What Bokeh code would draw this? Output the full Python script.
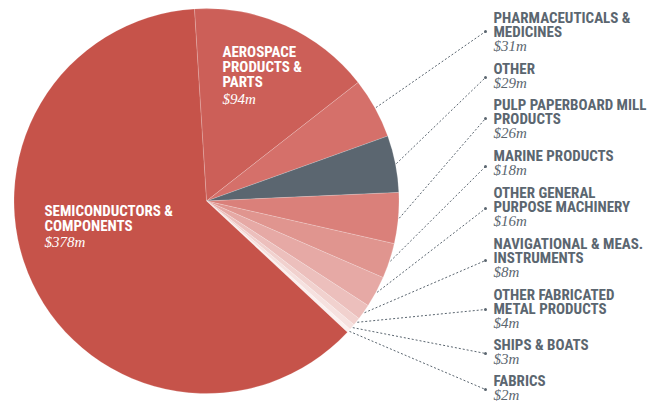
import numpy as np
from bokeh.plotting import figure
from bokeh.models import Range1d, ColumnDataSource
from bokeh.core.properties import value
from bokeh.embed import file_html
from bokeh.resources import INLINE

# ---- data (clockwise order starting at the top) ----
categories = ["AEROSPACE PRODUCTS & PARTS", "PHARMACEUTICALS & MEDICINES", "OTHER",
              "PULP PAPERBOARD MILL PRODUCTS", "MARINE PRODUCTS",
              "OTHER GENERAL PURPOSE MACHINERY", "NAVIGATIONAL & MEAS. INSTRUMENTS",
              "OTHER FABRICATED METAL PRODUCTS", "SHIPS & BOATS", "FABRICS",
              "SEMICONDUCTORS & COMPONENTS"]
values = [94, 31, 29, 26, 18, 16, 8, 4, 3, 2, 378]
value_labels = ["$94m", "$31m", "$29m", "$26m", "$18m", "$16m", "$8m", "$4m", "$3m", "$2m", "$378m"]
label_lines = [["AEROSPACE", "PRODUCTS &", "PARTS"],
               ["PHARMACEUTICALS &", "MEDICINES"],
               ["OTHER"],
               ["PULP PAPERBOARD MILL", "PRODUCTS"],
               ["MARINE PRODUCTS"],
               ["OTHER GENERAL", "PURPOSE MACHINERY"],
               ["NAVIGATIONAL & MEAS.", "INSTRUMENTS"],
               ["OTHER FABRICATED", "METAL PRODUCTS"],
               ["SHIPS & BOATS"],
               ["FABRICS"],
               ["SEMICONDUCTORS &", "COMPONENTS"]]

colors = ["#cc5f58", "#d5706a", "#5b6670", "#da807a", "#e0958f", "#e6a9a5",
          "#ecbfbc", "#f1d1ce", "#f6e1df", "#fbf0ef", "#c6534a"]

# ---- layout ----
W, H = 660, 402
CX, CY, R = 206, 200.5, 192.5   # screen px
START_DEG = -3.6                  # clockwise from north
TEXT_GRAY = "#5b6670"
BOLD_FONT = "'Liberation Sans Narrow', 'Roboto Condensed', 'DejaVu Sans Condensed', sans-serif"
SERIF_FONT = "'Liberation Serif', 'DejaVu Serif', serif"

def sy(y):
    return -y

p = figure(width=W, height=H, output_backend="svg", toolbar_location=None,
           x_range=Range1d(0, W), y_range=Range1d(sy(H), sy(0)),
           min_border=0)
p.axis.visible = False
p.grid.visible = False
p.outline_line_color = None
p.background_fill_color = "white"

vals = np.array(values, dtype=float)
frac = vals / vals.sum()
cum = np.concatenate([[0], np.cumsum(frac)]) * 360.0
start_cw = START_DEG + cum[:-1]
end_cw = START_DEG + cum[1:]
# convert clockwise-from-north to bokeh (counter-clockwise from east)
start_b = np.deg2rad(90 - end_cw)
end_b = np.deg2rad(90 - start_cw)

src = ColumnDataSource(dict(start=start_b, end=end_b, color=colors))
p.wedge(x=CX, y=sy(CY), radius=R, start_angle="start", end_angle="end",
        fill_color="color", line_color="white", line_width=0.3, line_alpha=0.6, source=src)

# ---- inside labels ----
inside = {0: (222, 51.7), 10: (44, 210)}
for i, (lx, ly) in inside.items():
    n = len(label_lines[i])
    p.text(x=[lx] * n, y=[sy(ly + 15 * k) for k in range(n)], text=label_lines[i],
           text_font=value(BOLD_FONT), text_font_style="bold", text_font_size="15px",
           text_color="white", text_baseline="middle", text_align="left")
    p.text(x=[lx], y=[sy(ly + 15 * n + 1.5)], text=[value_labels[i]],
           text_font=value(SERIF_FONT), text_font_style="italic", text_font_size="15px",
           text_color="white", text_baseline="middle", text_align="left")

# ---- outside labels with leader lines ----
label_top = {1: 17, 2: 68, 3: 104, 4: 155, 5: 192, 6: 243, 7: 294, 8: 344, 9: 380}
line_end_y = {1: 31, 2: 77, 3: 118, 4: 166, 5: 208, 6: 260, 7: 309, 8: 353, 9: 389}
TX = 493
EX = 485
for i, top in label_top.items():
    n = len(label_lines[i])
    p.text(x=[TX] * n, y=[sy(top + 14.3 * k) for k in range(n)], text=label_lines[i],
           text_font=value(BOLD_FONT), text_font_style="bold", text_font_size="15px",
           text_color=TEXT_GRAY, text_baseline="middle", text_align="left")
    p.text(x=[TX], y=[sy(top + 14.3 * n)], text=[value_labels[i]],
           text_font=value(SERIF_FONT), text_font_style="italic", text_font_size="15px",
           text_color=TEXT_GRAY, text_baseline="middle", text_align="left")
    mid = np.deg2rad((start_cw[i] + end_cw[i]) / 2)
    x0 = CX + (R + 1) * np.sin(mid)
    y0 = CY - (R + 1) * np.cos(mid)
    p.line(x=[x0, EX], y=[sy(y0), sy(line_end_y[i])], line_color=TEXT_GRAY,
           line_width=1, line_dash="2 2")
    p.scatter(x=[EX], y=[sy(line_end_y[i])], size=3, marker="circle",
              fill_color=TEXT_GRAY, line_color=None)

open("out.html", "w").write(file_html(p, INLINE))
